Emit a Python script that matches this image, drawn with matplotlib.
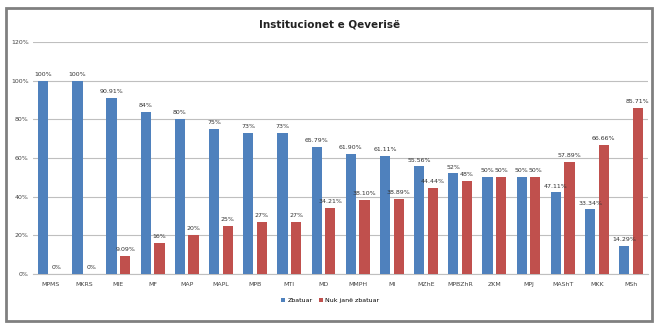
import numpy as np
import matplotlib
matplotlib.use("Agg")
import matplotlib.pyplot as plt
from matplotlib.patches import Rectangle

# data
categories = ["MPMS", "MKRS", "MIE", "MF", "MAP", "MAPL", "MPB", "MTI", "MD",
              "MMPH", "MI", "MZhE", "MPBZhR", "ZKM", "MPJ", "MAShT", "MKK", "MSh"]
zbatuar = [100, 100, 90.91, 84, 80, 75, 73, 73, 65.79, 61.90, 61.11, 55.56,
           52, 50, 50, 42.11, 33.34, 14.29]
nuk_zbatuar = [0, 0, 9.09, 16, 20, 25, 27, 27, 34.21, 38.10, 38.89, 44.44,
               48, 50, 50, 57.89, 66.66, 85.71]
zbatuar_labels = ["100%", "100%", "90.91%", "84%", "80%", "75%", "73%", "73%",
                  "65.79%", "61.90%", "61.11%", "55.56%", "52%", "50%", "50%",
                  "47.11%", "33.34%", "14.29%"]
nuk_labels = ["0%", "0%", "9.09%", "16%", "20%", "25%", "27%", "27%", "34.21%",
              "38.10%", "38.89%", "44.44%", "48%", "50%", "50%", "57.89%",
              "66.66%", "85.71%"]

blue = "#4F81BD"
red = "#C0504D"

fig = plt.figure(figsize=(6.6, 3.3), dpi=100)
ax = fig.add_axes([0.05, 0.17, 0.932, 0.703])

x = np.arange(len(categories))
w = 0.3
ax.bar(x - 0.2, zbatuar, w, color=blue, label="Zbatuar", zorder=3)
ax.bar(x + 0.2, nuk_zbatuar, w, color=red, label="Nuk janë zbatuar", zorder=3)

for xi, v, s in zip(x, zbatuar, zbatuar_labels):
    ax.text(xi - 0.2, v + 2, s, ha="center", va="bottom", fontsize=4.5, color="#333333")
for xi, v, s in zip(x, nuk_zbatuar, nuk_labels):
    ax.text(xi + 0.2, v + 2, s, ha="center", va="bottom", fontsize=4.5, color="#333333")

ax.set_xlim(-0.5, len(categories) - 0.5)
ax.set_ylim(0, 120)
ax.set_yticks(range(0, 121, 20))
ax.set_yticklabels([f"{t}%" for t in range(0, 121, 20)], fontsize=4.5, color="#444444")
ax.set_xticks(x)
ax.set_xticklabels(categories, fontsize=4.5, color="#444444")
ax.tick_params(axis="x", length=0, pad=6)
ax.tick_params(axis="y", length=0, pad=3)
ax.grid(axis="y", color="#BFBFBF", linewidth=0.8, zorder=0)
for s in ["top", "right", "left"]:
    ax.spines[s].set_visible(False)
ax.spines["bottom"].set_color("#BFBFBF")

fig.text(0.5, 0.925, "Institucionet e Qeverisë", ha="center", va="center",
         fontsize=7.5, fontweight="bold", color="#222222")

fig.legend(loc="center", bbox_to_anchor=(0.5, 0.09), ncol=2, fontsize=4.5,
           frameon=False, handlelength=0.7, handleheight=0.7, columnspacing=1.0,
           handletextpad=0.3)

fig.patches.append(Rectangle((0.009, 0.027), 0.979, 0.949, transform=fig.transFigure,
                             fill=False, edgecolor="#808080", linewidth=2))

fig.savefig("out.png", dpi=100)
